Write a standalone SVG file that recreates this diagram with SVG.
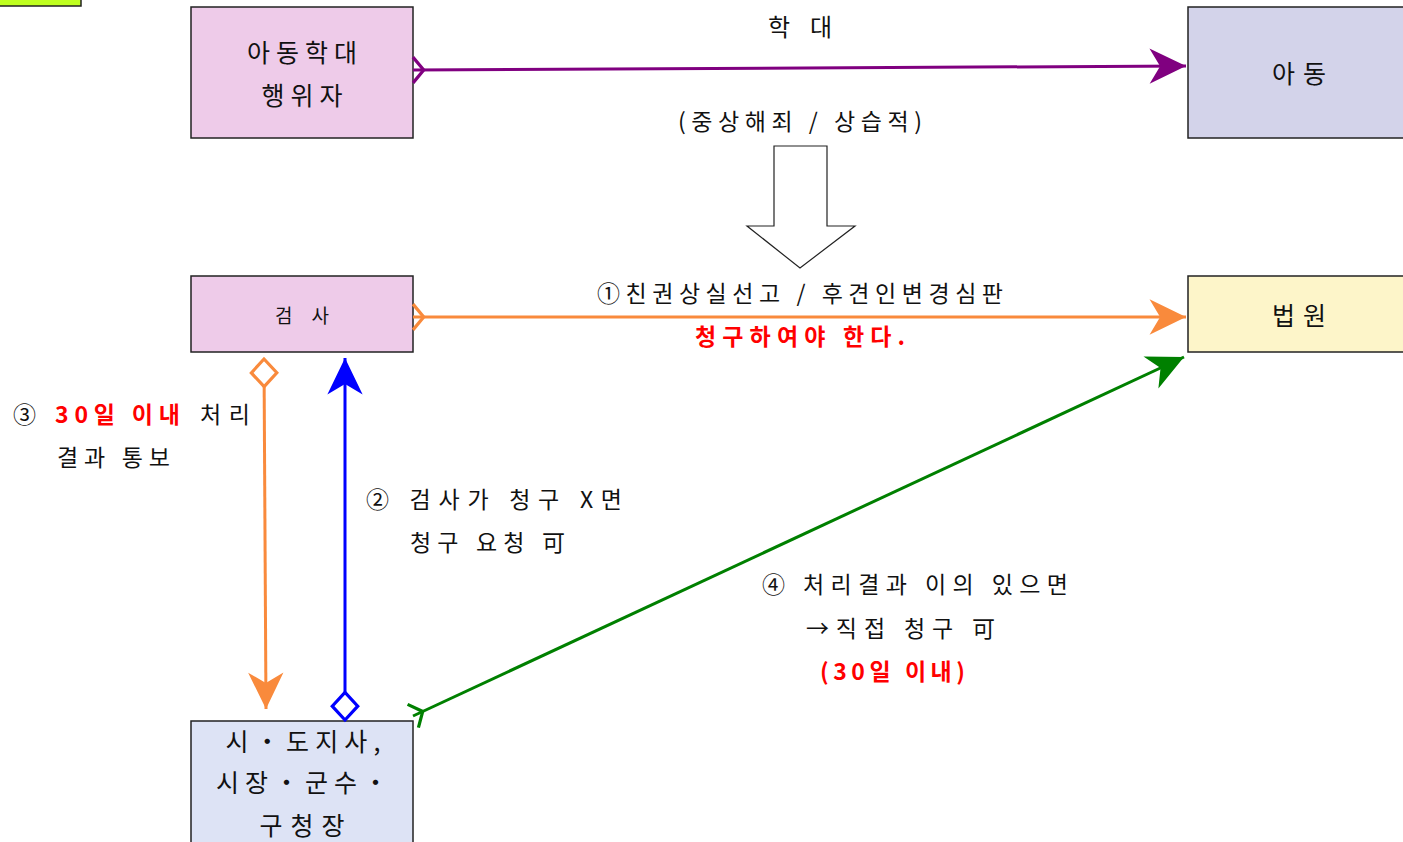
<svg xmlns="http://www.w3.org/2000/svg" width="1403" height="842" viewBox="0 0 1403 842">
<style>
.box{stroke:#222;stroke-width:1.5}
.bt{font-family:"Noto Sans CJK KR","Noto Sans",sans-serif;font-size:25px;fill:#111;text-anchor:middle;dominant-baseline:central}
.hw{font-family:"Noto Sans CJK KR","Noto Sans",sans-serif;font-size:23px;fill:#111;dominant-baseline:central}
.red{fill:#ff0000;font-weight:bold}
.ln{fill:none;stroke-width:3}
</style>
<defs>
<marker id="ahP" markerUnits="userSpaceOnUse" markerWidth="40" markerHeight="40" viewBox="-32 -17 34 34" refX="0" refY="0" orient="auto"><path d="M0,0 L-31,-15 L-22,0 L-31,15 Z" fill="#800080"/></marker>
<marker id="ahO" markerUnits="userSpaceOnUse" markerWidth="40" markerHeight="40" viewBox="-32 -17 34 34" refX="0" refY="0" orient="auto"><path d="M0,0 L-31,-15 L-22,0 L-31,15 Z" fill="#f98a3c"/></marker>
<marker id="ahB" markerUnits="userSpaceOnUse" markerWidth="40" markerHeight="40" viewBox="-32 -17 34 34" refX="0" refY="0" orient="auto"><path d="M0,0 L-31,-15 L-22,0 L-31,15 Z" fill="#0000ff"/></marker>
<marker id="ahG" markerUnits="userSpaceOnUse" markerWidth="40" markerHeight="40" viewBox="-32 -17 34 34" refX="0" refY="0" orient="auto"><path d="M0,0 L-31,-15 L-22,0 L-31,15 Z" fill="#008000"/></marker>
<marker id="tP" markerUnits="userSpaceOnUse" markerWidth="30" markerHeight="30" viewBox="-2 -14 16 28" refX="0" refY="0" orient="auto"><path d="M0,-12 L10,0 L0,12" fill="none" stroke="#800080" stroke-width="3"/></marker>
<marker id="tO" markerUnits="userSpaceOnUse" markerWidth="30" markerHeight="30" viewBox="-2 -14 16 28" refX="0" refY="0" orient="auto"><path d="M0,-12 L10,0 L0,12" fill="none" stroke="#f98a3c" stroke-width="3"/></marker>
<marker id="tG" markerUnits="userSpaceOnUse" markerWidth="30" markerHeight="30" viewBox="-2 -14 16 28" refX="0" refY="0" orient="auto"><path d="M0,-12 L10,0 L0,12" fill="none" stroke="#008000" stroke-width="3"/></marker>
<marker id="dO" markerUnits="userSpaceOnUse" markerWidth="34" markerHeight="34" viewBox="-3 -15 32 30" refX="0" refY="0" orient="auto"><path d="M0,0 L13,-12 L26,0 L13,12 Z" fill="#fff" stroke="#f98a3c" stroke-width="3"/></marker>
<marker id="dB" markerUnits="userSpaceOnUse" markerWidth="34" markerHeight="34" viewBox="-3 -15 32 30" refX="0" refY="0" orient="auto"><path d="M0,0 L13,-12 L26,0 L13,12 Z" fill="#fff" stroke="#0000ff" stroke-width="3"/></marker>
</defs>
<rect width="1403" height="842" fill="#fff"/>
<rect x="-2" y="-2" width="83" height="8" fill="#bfff1f" class="box"/>
<g id="abuser"><rect x="191" y="7" width="222" height="131" fill="#eecbe9" class="box"/><text class="bt" x="302" y="51" textLength="110">아동학대</text><text class="bt" x="302" y="94" textLength="81">행위자</text></g>
<g id="child"><rect x="1188" y="7" width="220" height="131" fill="#d3d3ea" class="box"/><text class="bt" x="1299" y="72" textLength="54">아동</text></g>
<g id="prosecutor"><rect x="191" y="276" width="222" height="76" fill="#eecbe9" class="box"/><text class="bt" x="302" y="314" style="font-size:19px" textLength="54">검사</text></g>
<g id="court"><rect x="1188" y="276" width="220" height="76" fill="#fdf5c9" class="box"/><text class="bt" x="1299" y="314" textLength="54">법원</text></g>
<g id="mayor"><rect x="191" y="721" width="222" height="125" fill="#dde3f5" class="box"/><text class="bt" x="303" y="740" textLength="155">시・도지사,</text><text class="bt" x="302" y="781" textLength="172">시장・군수・</text><text class="bt" x="302" y="824" textLength="85">구청장</text></g>
<g id="blockarrow"><path d="M774,146 L827,146 L827,226 L855,226 L800,268 L747,226 L774,226 Z" fill="#fff" stroke="#222" stroke-width="1.2"/></g>
<g id="connectors">
<path class="ln" d="M413,70 L1186,66" stroke="#800080" marker-start="url(#tP)" marker-end="url(#ahP)"/>
<path class="ln" d="M413,317 L1186,317" stroke="#f98a3c" marker-start="url(#tO)" marker-end="url(#ahO)"/>
<path class="ln" d="M264,359 L266,709" stroke="#f98a3c" marker-start="url(#dO)" marker-end="url(#ahO)"/>
<path class="ln" d="M345,720 L345,358" stroke="#0000ff" marker-start="url(#dB)" marker-end="url(#ahB)"/>
<path class="ln" d="M413,716 L1184,357" stroke="#008000" marker-start="url(#tG)" marker-end="url(#ahG)"/>
</g>
<g id="labels">
<text class="hw" x="768" y="25" textLength="64" style="font-size:24px">학대</text>
<text class="hw" x="678" y="120" textLength="244">(중상해죄 / 상습적)</text>
<text class="hw" x="597" y="292" textLength="406">①친권상실선고 / 후견인변경심판</text>
<text class="hw red" x="695" y="335" textLength="210">청구하여야 한다.</text>
<text class="hw" x="13" y="413">③</text>
<text class="hw red" x="55" y="413" textLength="125">30일 이내</text>
<text class="hw" x="200" y="413" textLength="50">처리</text>
<text class="hw" x="57" y="456" textLength="113">결과 통보</text>
<text class="hw" x="366" y="498" textLength="256">② 검사가 청구 X면</text>
<text class="hw" x="410" y="541" textLength="155">청구 요청 可</text>
<text class="hw" x="762" y="583" textLength="306">④ 처리결과 이의 있으면</text>
<text class="hw" x="806" y="627" textLength="189">→직접 청구 可</text>
<text class="hw red" x="820" y="670" textLength="145">(30일 이내)</text>
</g>
</svg>
